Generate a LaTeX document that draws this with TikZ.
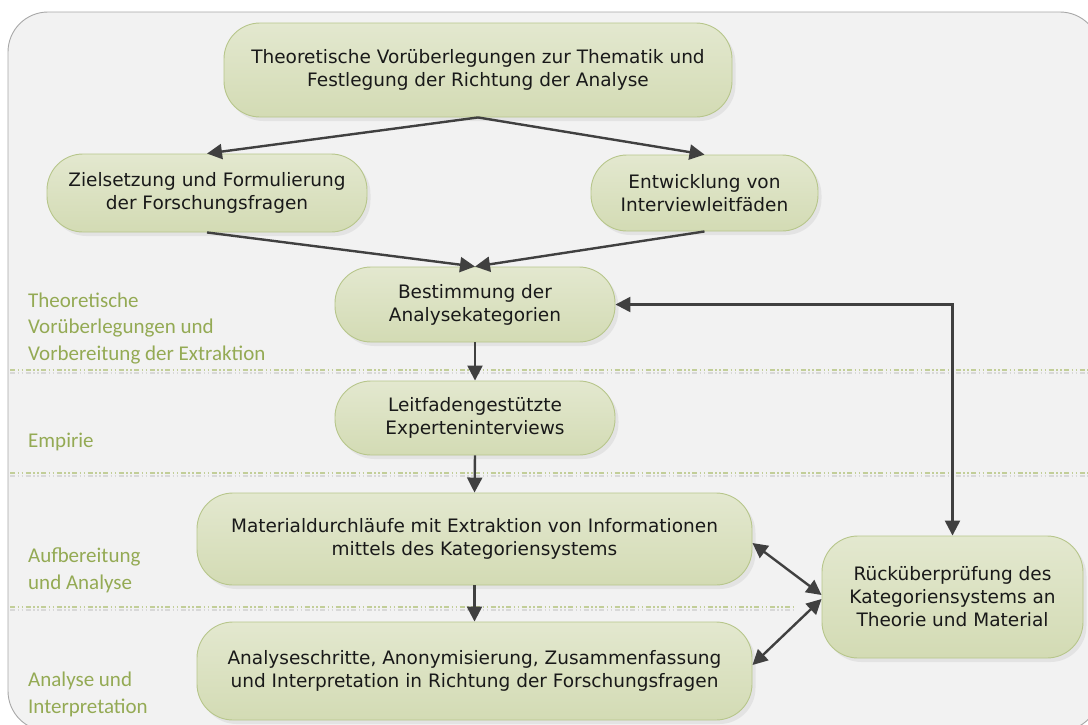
\documentclass[tikz,border=0pt]{standalone}
\usepackage{fontspec}
\setmainfont{DejaVu Sans}
\newfontfamily\sidefont{Carlito}
\usetikzlibrary{arrows.meta,shadows}

\definecolor{panelfill}{HTML}{F2F2F2}
\definecolor{panelline}{HTML}{A8A8A8}
\definecolor{boxtop}{HTML}{E3E8CF}
\definecolor{boxbottom}{HTML}{D3DBB4}
\definecolor{boxline}{HTML}{B7C68B}
\definecolor{phasetext}{HTML}{94AA54}
\definecolor{arrowgrey}{HTML}{404040}
\definecolor{sepgreen}{HTML}{C2CE98}
\definecolor{sepgrey}{HTML}{D8D8D8}

\begin{document}
\begin{tikzpicture}[x=1pt,y=-1pt,
  stepbox/.style={draw=boxline, line width=0.9pt, top color=boxtop, bottom color=boxbottom,
    rounded corners=36pt, align=center, inner sep=0pt, text=black!90,
    font=\fontsize{18.5}{23}\selectfont,
    drop shadow={fill=black!16, shadow xshift=3.5pt, shadow yshift=-4pt}},
  flow/.style={draw=arrowgrey, line width=2.4pt, -{Triangle[length=15pt,width=15pt]}},
  twoway/.style={draw=arrowgrey, line width=2.4pt,
    {Triangle[length=15pt,width=15pt]}-{Triangle[length=15pt,width=15pt]}},
  % anchored at the baseline of the last line
  phase/.style={text=phasetext, font=\sidefont\fontsize{21}{26.5}\selectfont,
    align=left, inner sep=0pt, anchor=base west},
  sep/.style={line width=1.1pt,
    dash pattern=on 5pt off 2.5pt on 1.5pt off 2.5pt on 1.5pt off 2.5pt},
]
\useasboundingbox (0,0) rectangle (1088,724);

% background panel
\begin{scope}
  \clip (0,0) rectangle (1088,724);
  \filldraw[fill=panelfill, draw=panelline, line width=0.9pt, rounded corners=40pt]
    (8,12) rectangle (1100,731);
\end{scope}

% phase separators
\draw[sep, sepgrey]  (10,373) -- (1088,373);
\draw[sep, sepgreen] (10,370) -- (1088,370);
\draw[sep, sepgrey]  (10,476) -- (1088,476);
\draw[sep, sepgreen] (10,473) -- (1088,473);
\draw[sep, sepgrey]  (10,610) -- (793,610);
\draw[sep, sepgreen] (10,607) -- (793,607);

% phase labels
\node[phase] (ph1) at (28,360) {Theoretische\\Vorüberlegungen und\\Vorbereitung der Extraktion};
\node[phase] (ph2) at (28,447) {Empirie};
\node[phase] (ph3) at (28,589) {Aufbereitung\\und Analyse};
\node[phase] (ph4) at (28,713) {Analyse und\\Interpretation};

% process steps
\node[stepbox, minimum width=508pt, minimum height=94pt] (vorueb) at (478,70)
  {Theoretische Vorüberlegungen zur Thematik und\\Festlegung der Richtung der Analyse};
\node[stepbox, minimum width=320pt, minimum height=78pt] (ziel) at (207,193)
  {Zielsetzung und Formulierung\\der Forschungsfragen};
\node[stepbox, minimum width=227pt, minimum height=76pt] (entw) at (704.5,193)
  {Entwicklung von\\Interviewleitfäden};
\node[stepbox, minimum width=280pt, minimum height=75pt] (best) at (475,304.5)
  {Bestimmung der\\Analysekategorien};
\node[stepbox, minimum width=280pt, minimum height=74pt] (leit) at (475,418)
  {Leitfadengestützte\\Experteninterviews};
\node[stepbox, minimum width=555pt, minimum height=92pt] (mat) at (474.5,539)
  {Materialdurchläufe mit Extraktion von Informationen\\mittels des Kategoriensystems};
\node[stepbox, minimum width=555pt, minimum height=98pt] (ana) at (474.5,671)
  {Analyseschritte, Anonymisierung, Zusammenfassung\\und Interpretation in Richtung der Forschungsfragen};
\node[stepbox, minimum width=261pt, minimum height=122pt] (rueck) at (952.5,597)
  {Rücküberprüfung des\\Kategoriensystems an\\Theorie und Material};

% connectors
\draw[flow] (vorueb.south) -- (ziel.north);
\draw[flow] (vorueb.south) -- (entw.north);
\draw[flow] (ziel.south) -- (best.north);
\draw[flow] (entw.south) -- (best.north);
\draw[flow] (best.south) -- (leit.north);
\draw[flow] (leit.south) -- (mat.north);
\draw[flow] (mat.south) -- (ana.north);
\draw[twoway] (best.east) -- (best.east -| rueck.north) -- (rueck.north);
\draw[twoway] ([yshift=-4pt]mat.east) -- ([yshift=2pt]rueck.west);
\draw[twoway] ([yshift=-2pt]rueck.west) -- ([yshift=6pt]ana.east);
\end{tikzpicture}
\end{document}
